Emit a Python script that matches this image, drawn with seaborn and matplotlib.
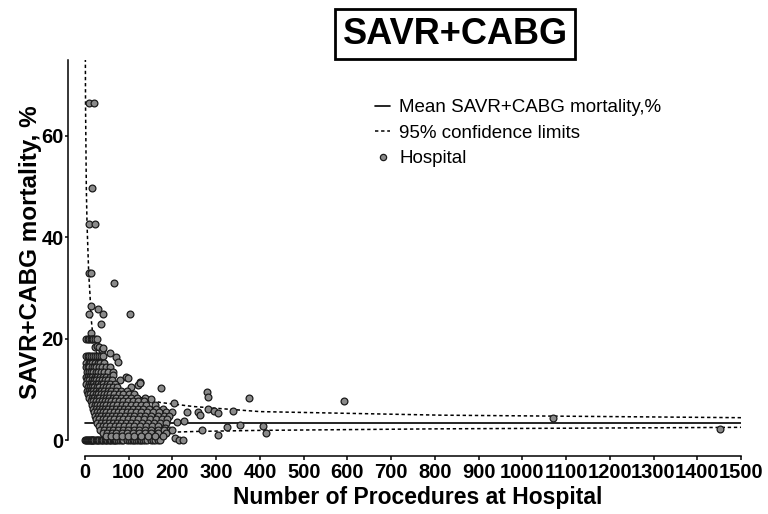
import matplotlib
matplotlib.use("Agg")
import matplotlib.pyplot as plt
import seaborn as sns
import pandas as pd
from matplotlib.lines import Line2D

# ---------------- data ----------------
procedures = [
    # hospitals with 0 % mortality
    1, 3, 5, 7, 9, 11, 13, 15, 17, 19, 21, 24, 27, 30, 33, 36, 39, 42, 45, 48,
    51, 54, 57, 60, 63, 66, 69, 72, 76, 80, 84, 88, 97, 101, 105, 109, 113, 117, 121, 125,
    129, 133, 137, 141, 150, 155, 160, 166, 172, 206, 214, 224,
    # high outliers
    8.5, 20.6, 16, 9, 22, 8, 13, 66, 13, 30, 9, 42, 102, 36, 14,
    # ~20 %
    3, 6, 10, 13, 16, 19, 23, 27,
    22, 27, 32, 38, 41, 56, 72, 75,
    2, 6, 10, 14, 18, 22, 27, 32, 37, 42,
    # dense block
    3, 8, 12, 17, 23, 29, 35, 44,
    2, 6, 10, 15, 20, 26, 31, 38, 47, 58,
    4, 9, 14, 19, 25, 30, 36, 43, 52, 64,
    2, 7, 12, 17, 22, 28, 34, 40, 48, 57, 64, 94, 99,
    5, 10, 15, 20, 26, 32, 38, 45, 53, 62, 79, 125,
    3, 8, 13, 18, 24, 30, 36, 42, 50, 58, 68, 122, 126,
    6, 11, 16, 21, 27, 33, 40, 47, 55, 64, 74, 106, 173,
    4, 9, 14, 19, 25, 31, 37, 44, 52, 60, 70, 82, 95,
    7, 12, 18, 24, 30, 36, 43, 50, 58, 67, 77, 88, 100, 112,
    10, 15, 21, 27, 33, 40, 47, 55, 63, 72, 82, 93, 105, 118, 137, 150,
    13, 19, 25, 31, 38, 45, 52, 60, 69, 78, 88, 99, 110, 122, 134,
    16, 22, 28, 35, 42, 49, 57, 65, 74, 84, 94, 105, 116, 128, 140, 160, 204,
    18, 24, 31, 38, 45, 53, 61, 70, 79, 89, 99, 110, 121, 133, 146, 162, 178,
    20, 27, 34, 41, 49, 57, 66, 75, 85, 95, 106, 117, 129, 142, 155, 170, 186, 198,
    22, 29, 37, 45, 53, 62, 71, 81, 91, 102, 113, 125, 138, 151, 166, 180, 192,
    25, 33, 41, 49, 58, 67, 77, 87, 98, 109, 121, 134, 148, 162, 175, 188,
    28, 36, 45, 54, 63, 73, 83, 94, 105, 117, 130, 144, 158, 172, 185, 210, 227,
    31, 40, 49, 58, 68, 78, 89, 100, 112, 125, 139, 153, 168, 182, 192,
    35, 44, 54, 64, 75, 86, 98, 111, 124, 138, 152, 166, 180, 198,
    40, 50, 61, 72, 84, 96, 109, 123, 137, 152, 168, 186,
    48, 60, 72, 85, 99, 113, 128, 144, 160, 178,
    # sparse right side
    278, 281, 376, 233, 259, 262, 282, 294, 304, 338,
    267, 304, 324, 355, 407, 414, 593, 1069, 1452,
]

mortality = [
    0, 0, 0, 0, 0, 0, 0, 0, 0, 0, 0, 0, 0, 0, 0, 0, 0, 0, 0, 0,
    0, 0, 0, 0, 0, 0, 0, 0, 0, 0, 0, 0, 0, 0, 0, 0, 0, 0, 0, 0,
    0, 0, 0, 0, 0, 0, 0, 0, 0, 0.4, 0, 0,
    66.5, 66.5, 49.7, 42.6, 42.6, 33, 33, 31, 26.4, 25.8, 24.8, 24.8, 24.8, 22.8, 21.1,
    20, 20, 20, 20, 20, 20, 20, 20,
    18.4, 18.6, 18.3, 17.8, 18.2, 17.2, 16.4, 15.4,
    16.6, 16.6, 16.6, 16.6, 16.6, 16.6, 16.6, 16.6, 16.6, 16.6,
    15.2, 15.2, 15.2, 15.2, 15.2, 15.2, 15.2, 15.2,
    14.3, 14.3, 14.3, 14.3, 14.3, 14.3, 14.3, 14.3, 14.3, 14.3,
    13.5, 13.5, 13.5, 13.5, 13.5, 13.5, 13.5, 13.5, 13.5, 13.5,
    12.5, 12.5, 12.5, 12.5, 12.5, 12.5, 12.5, 12.5, 12.5, 12.5, 12.8, 12.5, 12.2,
    11.8, 11.8, 11.8, 11.8, 11.8, 11.8, 11.8, 11.8, 11.8, 11.8, 11.8, 11.5,
    11.1, 11.1, 11.1, 11.1, 11.1, 11.1, 11.1, 11.1, 11.1, 11.1, 11.1, 10.8, 11.2,
    10.4, 10.4, 10.4, 10.4, 10.4, 10.4, 10.4, 10.4, 10.4, 10.4, 10.4, 10.5, 10.3,
    9.7, 9.7, 9.7, 9.7, 9.7, 9.7, 9.7, 9.7, 9.7, 9.7, 9.7, 9.7, 9.7,
    9.0, 9.0, 9.0, 9.0, 9.0, 9.0, 9.0, 9.0, 9.0, 9.0, 9.0, 9.0, 9.0, 9.0,
    8.3, 8.3, 8.3, 8.3, 8.3, 8.3, 8.3, 8.3, 8.3, 8.3, 8.3, 8.3, 8.3, 8.3, 8.2, 8.0,
    7.6, 7.6, 7.6, 7.6, 7.6, 7.6, 7.6, 7.6, 7.6, 7.6, 7.6, 7.6, 7.6, 7.6, 7.6,
    6.9, 6.9, 6.9, 6.9, 6.9, 6.9, 6.9, 6.9, 6.9, 6.9, 6.9, 6.9, 6.9, 6.9, 6.9, 6.9, 7.2,
    6.2, 6.2, 6.2, 6.2, 6.2, 6.2, 6.2, 6.2, 6.2, 6.2, 6.2, 6.2, 6.2, 6.2, 6.2, 6.2, 6.2,
    5.5, 5.5, 5.5, 5.5, 5.5, 5.5, 5.5, 5.5, 5.5, 5.5, 5.5, 5.5, 5.5, 5.5, 5.5, 5.5, 5.5, 5.5,
    4.8, 4.8, 4.8, 4.8, 4.8, 4.8, 4.8, 4.8, 4.8, 4.8, 4.8, 4.8, 4.8, 4.8, 4.8, 4.8, 4.8,
    4.1, 4.1, 4.1, 4.1, 4.1, 4.1, 4.1, 4.1, 4.1, 4.1, 4.1, 4.1, 4.1, 4.1, 4.1, 4.1,
    3.4, 3.4, 3.4, 3.4, 3.4, 3.4, 3.4, 3.4, 3.4, 3.4, 3.4, 3.4, 3.4, 3.4, 3.4, 3.6, 3.7,
    2.7, 2.7, 2.7, 2.7, 2.7, 2.7, 2.7, 2.7, 2.7, 2.7, 2.7, 2.7, 2.7, 2.3, 2.0,
    2.0, 2.0, 2.0, 2.0, 2.0, 2.0, 2.0, 2.0, 2.0, 2.0, 2.0, 2.0, 2.0, 2.0,
    1.3, 1.3, 1.3, 1.3, 1.3, 1.3, 1.3, 1.3, 1.3, 1.3, 1.3, 1.3,
    0.7, 0.7, 0.7, 0.7, 0.7, 0.7, 0.7, 0.7, 0.7, 0.7,
    9.5, 8.5, 8.3, 5.5, 5.6, 4.9, 6.2, 5.8, 5.4, 5.7,
    2.0, 1.0, 2.6, 3.0, 2.8, 1.4, 7.7, 4.3, 2.2,
]

mean_mortality = 3.4
mean_n = [0, 1500]
upper_n = [0.6, 1.2, 3, 4.6, 8.4, 11.4, 14, 19, 30, 50, 80, 126, 172, 248, 400, 812, 1500]
upper_v = [80, 66, 49.7, 42.6, 33, 28.6, 24, 19.7, 16, 12.5, 10, 8.4, 7.4, 6.6, 5.6, 4.9, 4.4]
lower_n = [18, 30, 50, 80, 120, 180, 260, 400, 800, 1500]
lower_v = [0, 0.4, 0.7, 1.0, 1.25, 1.5, 1.7, 1.9, 2.2, 2.5]
x_ticks = list(range(0, 1501, 100))
y_ticks = [0, 20, 40, 60]

# ---------------- style ----------------
sns.set_style("ticks")
plt.rcParams['font.family'] = ['Liberation Sans', 'DejaVu Sans']
plt.rcParams['text.color'] = 'black'
plt.rcParams['axes.labelcolor'] = 'black'
plt.rcParams['xtick.color'] = 'black'
plt.rcParams['ytick.color'] = 'black'

fig = plt.figure(figsize=(7.68, 5.14), dpi=100)
ax = fig.add_axes([68 / 768, (514 - 456) / 514, 673 / 768, 396 / 514])

df = pd.DataFrame({"n": procedures, "m": mortality})
dash = (0, (2.2, 1.8))

sns.lineplot(x=mean_n, y=[mean_mortality, mean_mortality], ax=ax, color="black",
             lw=1.2, estimator=None, zorder=2)
sns.lineplot(x=upper_n, y=upper_v, ax=ax, color="black", lw=1.1, linestyle=dash,
             estimator=None, sort=False, zorder=2)
sns.lineplot(x=lower_n, y=lower_v, ax=ax, color="black", lw=1.1, linestyle=dash,
             estimator=None, sort=False, zorder=2)
sns.scatterplot(data=df, x="n", y="m", ax=ax, s=24, color="#8a8a8a",
                edgecolor="#1a1a1a", linewidth=0.9, zorder=3, legend=False)

ax.set_xlim(-38.9, 1500)
ax.set_ylim(-3.15, 74.9)
ax.set_xticks(x_ticks)
ax.set_yticks(y_ticks)
ax.set_xticklabels([str(t) for t in x_ticks], fontsize=14.5, fontweight="bold")
ax.set_yticklabels([str(t) for t in y_ticks], fontsize=14.5, fontweight="bold")
ax.set_xlabel("Number of Procedures at Hospital", fontsize=16.5, fontweight="bold")
ax.xaxis.set_label_coords((418 - 68) / 673, (456 - 486) / 396)
ax.set_ylabel("SAVR+CABG mortality, %", fontsize=17.5, fontweight="bold")
ax.yaxis.set_label_coords(-0.039, 0.514)

sns.despine(ax=ax)
ax.spines["left"].set_bounds(0, 74.9)
ax.spines["bottom"].set_bounds(0, 1500)
for sp in ("left", "bottom"):
    ax.spines[sp].set_linewidth(1.1)
    ax.spines[sp].set_color("black")
ax.tick_params(axis="x", direction="out", length=3, width=1.1, color="black", pad=2.2)
ax.tick_params(axis="y", direction="out", length=2.2, width=1.1, color="black", pad=0.8)

handles = [
    Line2D([0], [0], color="black", lw=1.2),
    Line2D([0], [0], color="black", lw=1.1, linestyle=dash),
    Line2D([0], [0], marker="o", color="none", markerfacecolor="#8a8a8a",
           markeredgecolor="#1a1a1a", markersize=4.5, markeredgewidth=0.9),
]
labels = ["Mean SAVR+CABG mortality,%", "95% confidence limits", "Hospital"]
fig.legend(handles, labels, loc="upper left", bbox_to_anchor=(375 / 768, 1 - 99 / 514),
           frameon=False, fontsize=13.5, handlelength=0.8, handletextpad=0.5,
           borderpad=0, borderaxespad=0, labelspacing=0.45)

fig.text(455 / 768, 1 - 34 / 514, "SAVR+CABG", ha="center", va="center",
         fontsize=26, fontweight="bold",
         bbox=dict(boxstyle="square,pad=0.2", fc="white", ec="black", lw=2))

fig.savefig("out.png", dpi=100)
